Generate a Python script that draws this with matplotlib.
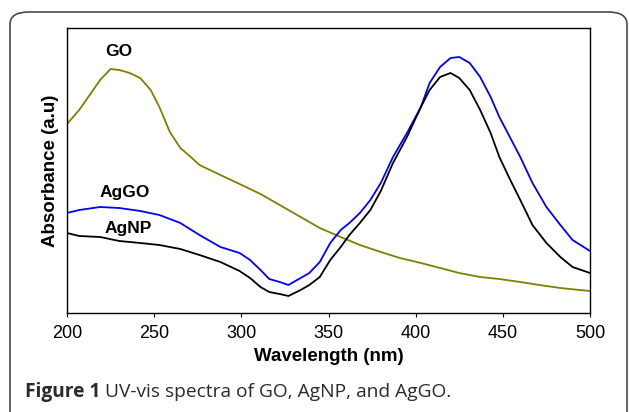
import matplotlib
matplotlib.use('Agg')
import matplotlib.pyplot as plt
from matplotlib.patches import FancyBboxPatch

plt.rcParams['font.family'] = ['Liberation Sans', 'DejaVu Sans']

# (absorbance in arbitrary units)
go_nm = [200, 207, 213, 219, 225, 230, 236, 242, 248, 253, 259, 265, 271, 276,
         288, 299, 311, 322, 334, 345, 357, 368, 380, 391, 403, 414, 425, 437,
         448, 460, 471, 483, 494, 500]
go_abs = [1.89, 2.03, 2.18, 2.33, 2.44, 2.43, 2.40, 2.35, 2.23, 2.06, 1.81, 1.65, 1.56, 1.48,
          1.38, 1.29, 1.19, 1.08, 0.96, 0.85, 0.76, 0.68, 0.61, 0.55, 0.50, 0.45, 0.40, 0.36,
          0.34, 0.31, 0.28, 0.25, 0.23, 0.22]

ag_nm = [200, 207, 219, 230, 242, 253, 265, 276, 288, 299, 305, 311, 316, 322,
         327, 334, 339, 345, 351, 357, 362, 368, 374, 380, 387, 395, 403, 408,
         414, 420, 425, 431, 437, 443, 448, 454, 460, 467, 475, 483, 490, 500]
aggo_abs = [1.00, 1.03, 1.06, 1.05, 1.02, 0.98, 0.90, 0.78, 0.66, 0.60, 0.53, 0.43, 0.34, 0.31,
            0.28, 0.35, 0.40, 0.51, 0.70, 0.83, 0.90, 1.00, 1.13, 1.30, 1.56, 1.80, 2.06, 2.30,
            2.46, 2.55, 2.56, 2.50, 2.36, 2.16, 1.96, 1.76, 1.56, 1.30, 1.06, 0.88, 0.73, 0.62]
agnp_abs = [0.80, 0.77, 0.76, 0.72, 0.70, 0.68, 0.64, 0.58, 0.51, 0.42, 0.35, 0.26, 0.21, 0.19,
            0.17, 0.23, 0.28, 0.36, 0.53, 0.66, 0.78, 0.90, 1.03, 1.22, 1.50, 1.76, 2.06, 2.23,
            2.36, 2.40, 2.35, 2.23, 2.03, 1.80, 1.56, 1.34, 1.13, 0.88, 0.70, 0.56, 0.46, 0.40]

xticks = [200, 250, 300, 350, 400, 450, 500]

fig = plt.figure(figsize=(6.29, 4.12), dpi=100)

# rounded frame around the figure, bottom runs off the image
frame = FancyBboxPatch((10 / 629, -0.1), 617 / 629, (1 - 12 / 412) + 0.1,
                       boxstyle='round,pad=0,rounding_size=0.03',
                       transform=fig.transFigure, fill=False,
                       edgecolor='#4a4a4a', linewidth=1.2)
fig.patches.append(frame)

ax = fig.add_axes([67 / 629, 1 - 313 / 412, 523 / 629, 285 / 412])
ax.plot(go_nm, go_abs, color='#808000', lw=1.3)
ax.plot(ag_nm, aggo_abs, color='#0000ff', lw=1.3)
ax.plot(ag_nm, agnp_abs, color='black', lw=1.3)

ax.text(230, 2.61, 'GO', fontsize=12.5, fontweight='bold', ha='center', va='center')
ax.text(233, 1.20, 'AgGO', fontsize=12.5, fontweight='bold', ha='center', va='center')
ax.text(235, 0.85, 'AgNP', fontsize=12.5, fontweight='bold', ha='center', va='center')

ax.set_xlim(200, 500)
ax.set_ylim(0, 2.85)
ax.set_xticks(xticks)
ax.set_yticks([])
ax.tick_params(axis='x', direction='out', length=3, labelsize=13, pad=6)
for s in ax.spines.values():
    s.set_linewidth(1.0)
ax.set_xlabel('Wavelength (nm)', fontsize=13.5, fontweight='bold', labelpad=4)
ax.set_ylabel('Absorbance (a.u)', fontsize=13.5, fontweight='bold', labelpad=6)

# caption with bold lead
cap_y = 1 - 397 / 412
t1 = fig.text(25 / 629, cap_y, 'Figure 1', fontsize=13.8, fontweight='bold',
              color='#2a2a2a', family='Open Sans', va='baseline')
fig.canvas.draw()
bb = t1.get_window_extent()
fig.text((bb.x1 + 5) / 629, cap_y, 'UV-vis spectra of GO, AgNP, and AgGO.',
         fontsize=13.8, color='#2a2a2a', family='Open Sans', va='baseline')

fig.savefig('out.png', dpi=100)
